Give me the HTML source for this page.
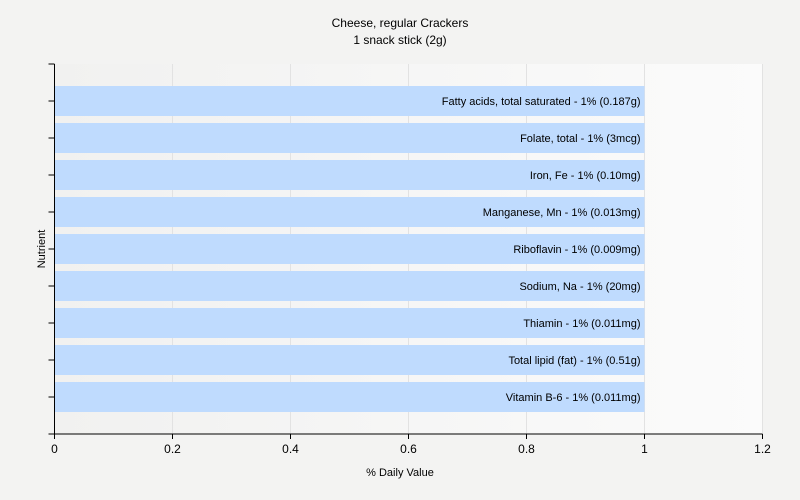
<!DOCTYPE html>
<html><head><meta charset="utf-8"><style>
body{margin:0;background:#f3f3f2;}
svg{display:block;font-family:"Liberation Sans",sans-serif;}
</style></head><body>
<svg id="c" width="800" height="500">
<defs><linearGradient id="bg" x1="0" x2="1" y1="0" y2="0">
<stop offset="0" stop-color="#f1f1f0"/><stop offset="1" stop-color="#fbfbfb"/></linearGradient></defs>
<rect width="800" height="500" fill="#f3f3f2"/>
<text x="400" y="27" text-anchor="middle" font-size="12">Cheese, regular Crackers</text>
<text x="400" y="44" text-anchor="middle" font-size="12">1 snack stick (2g)</text>
<text x="400" y="476" text-anchor="middle" font-size="11">% Daily Value</text>
<text transform="translate(45,249) rotate(-90)" text-anchor="middle" font-size="11">Nutrient</text>
<g id="plot"></g>
</svg>
<script>
const categories=["Fatty acids, total saturated","Folate, total","Iron, Fe","Manganese, Mn","Riboflavin","Sodium, Na","Thiamin","Total lipid (fat)","Vitamin B-6"];
const values=[1,1,1,1,1,1,1,1,1];
const valueLabels=["1% (0.187g)","1% (3mcg)","1% (0.10mg)","1% (0.013mg)","1% (0.009mg)","1% (20mg)","1% (0.011mg)","1% (0.51g)","1% (0.011mg)"];
const xTicks=[0,0.2,0.4,0.6,0.8,1,1.2];
const X0=54.5,X1=762.5,Y0=64,Y1=434,XMAX=1.2;
const band=(Y1-Y0)/(categories.length+1);
const x=v=>X0+(X1-X0)*v/XMAX;
const y=i=>Y0+band*(i+1);
const NS="http://www.w3.org/2000/svg";
const g=document.getElementById('plot');
function mk(t,a){const e=document.createElementNS(NS,t);for(const k in a)e.setAttribute(k,a[k]);g.appendChild(e);return e;}
let r=mk('rect',{x:X0,y:Y0,width:X1-X0,height:Y1-Y0,fill:'url(#bg)'});


xTicks.forEach(t=>{
 if(t>0){let l=mk('line',{x1:x(t),x2:x(t),y1:Y0,y2:Y1,stroke:'#e2e2e2'});
 
 }
 let k=mk('line',{x1:x(t),x2:x(t),y1:Y1,y2:Y1+5,stroke:'#000'});
 
 
 let tx=mk('text',{x:x(t),y:Y1+19,'text-anchor':'middle','font-size':'12'});
 tx.textContent=String(t);
 
 
});
categories.forEach((c,i)=>{
 let b=mk('rect',{x:X0,y:y(i)-15,width:x(values[i])-X0,height:30,fill:'#bfdbfe'});
 
 
 let t=mk('text',{x:x(values[i])-4,y:y(i)+4,'text-anchor':'end','font-size':'11'});
 t.textContent=c+" - "+valueLabels[i];
 
 
});
for(let i=0;i<=categories.length+1;i++){
 let k=mk('line',{x1:X0-6,x2:X0,y1:Y0+band*i,y2:Y0+band*i,stroke:'#000'});
 
 
}
let ya=mk('line',{x1:X0,x2:X0,y1:Y0,y2:Y1,stroke:'#000'});


let xa=mk('line',{x1:X0-6,x2:X1,y1:Y1,y2:Y1,stroke:'#000'});


</script>
</body></html>
